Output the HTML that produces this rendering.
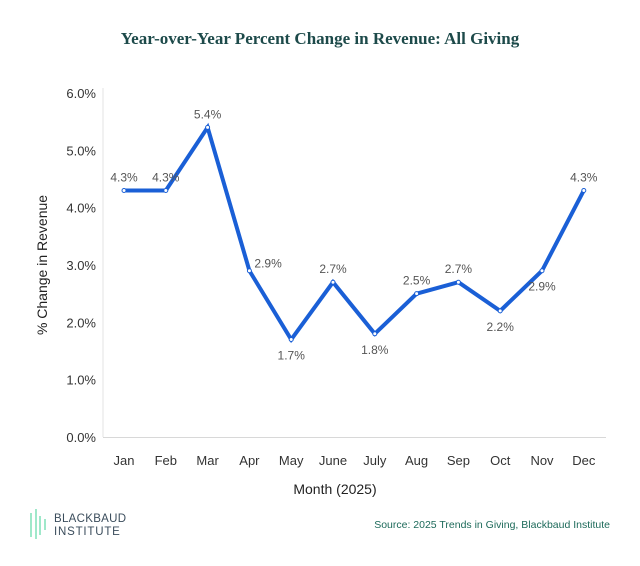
<!DOCTYPE html>
<html><head><meta charset="utf-8"><style>
body{margin:0;background:#fff;width:640px;height:561px;overflow:hidden;font-family:"Liberation Sans",sans-serif}
</style></head><body>
<svg width="640" height="561" id="c">
<text x="320" y="44" text-anchor="middle" font-family="Liberation Serif,serif" font-weight="bold" font-size="17" fill="#1d4a4a">Year-over-Year Percent Change in Revenue: All Giving</text>
<line x1="103" y1="88" x2="103" y2="437" stroke="#e3e3e3"/>
<line x1="103" y1="437.5" x2="606" y2="437.5" stroke="#d8d8d8"/>
<text transform="translate(47,265) rotate(-90)" text-anchor="middle" font-size="14" fill="#222">% Change in Revenue</text>
<text x="335" y="494" text-anchor="middle" font-size="14" fill="#222">Month (2025)</text>
<g>
<line x1="31" y1="513" x2="31" y2="537" stroke="#7fe0b8" stroke-width="1.5"/>
<line x1="36" y1="509" x2="36" y2="539" stroke="#7fe0b8" stroke-width="1.5"/>
<line x1="40" y1="516" x2="40" y2="535" stroke="#7fe0b8" stroke-width="1.5"/>
<line x1="45" y1="519" x2="45" y2="530" stroke="#7fe0b8" stroke-width="1.5"/>
<text x="54" y="522" font-size="11.5" fill="#3b4d5c" letter-spacing="0.3">BLACKBAUD</text>
<text x="54" y="535" font-size="11.5" fill="#3b4d5c" letter-spacing="0.8">INSTITUTE</text>
</g>
<text x="610" y="528" text-anchor="end" font-size="10.5" fill="#1d6a5a">Source: 2025 Trends in Giving, Blackbaud Institute</text>
<g id="ticks"></g><g id="marks"></g>
</svg>
<script>
const months=["Jan","Feb","Mar","Apr","May","June","July","Aug","Sep","Oct","Nov","Dec"];
const values=[4.3,4.3,5.4,2.9,1.7,2.7,1.8,2.5,2.7,2.2,2.9,4.3];
const yTicks=[0,1,2,3,4,5,6];
const labelPos=["a","a","a","r","b","a","b","a","a","b","b","a"];
const NS="http://www.w3.org/2000/svg";
const x=i=>124+i*41.8, y=v=>437-v*57.33;
const tk=document.getElementById("ticks"), mk=document.getElementById("marks");
function el(t,a,p){const e=document.createElementNS(NS,t);for(const k in a)e.setAttribute(k,a[k]);p.appendChild(e);return e;}
yTicks.forEach(v=>{const t=el("text",{x:96,y:y(v)+5,"text-anchor":"end","font-size":"13",fill:"#333"},tk);t.textContent=v.toFixed(1)+"%";

});
months.forEach((m,i)=>{const t=el("text",{x:x(i),y:465,"text-anchor":"middle","font-size":"13",fill:"#333"},tk);t.textContent=m;

});
const line=el("polyline",{points:values.map((v,i)=>x(i)+","+y(v)).join(" "),fill:"none",stroke:"#1a5fd6","stroke-width":"4","stroke-linejoin":"miter"},mk);


values.forEach((v,i)=>{const c=el("circle",{cx:x(i),cy:y(v),r:2,fill:"#fff",stroke:"#1a5fd6","stroke-width":"1"},mk);


const p=labelPos[i];let lx=x(i),ly=y(v)-9,a="middle";
if(p==="b")ly=y(v)+20;if(p==="r"){lx=x(i)+5;ly=y(v)-3;a="start";}
const t=el("text",{x:lx,y:ly,"text-anchor":a,"font-size":"12",fill:"#555"},mk);t.textContent=v.toFixed(1)+"%";

});
</script>
</body></html>
